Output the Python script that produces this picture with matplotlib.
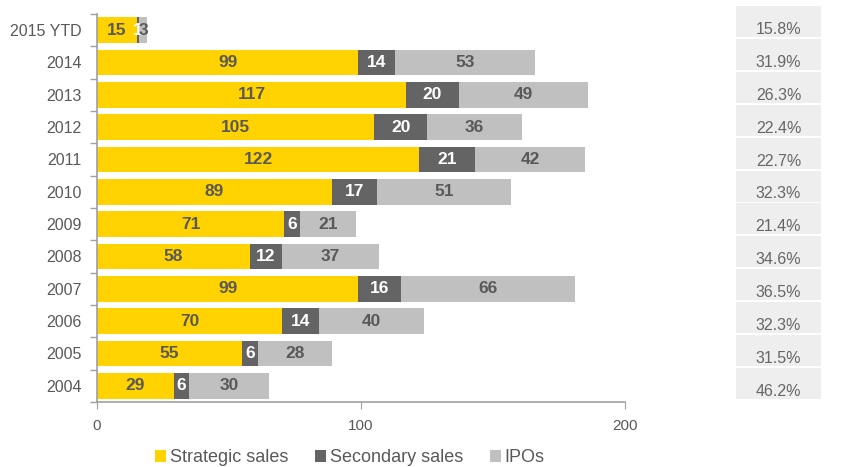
import matplotlib
matplotlib.use("Agg")
import matplotlib.pyplot as plt
import numpy as np
from matplotlib.patches import Rectangle

plt.rcParams['font.family'] = ['Liberation Sans', 'DejaVu Sans']

years = ["2015 YTD", "2014", "2013", "2012", "2011", "2010", "2009", "2008",
         "2007", "2006", "2005", "2004"]
strategic = [15, 99, 117, 105, 122, 89, 71, 58, 99, 70, 55, 29]
secondary = [1, 14, 20, 20, 21, 17, 6, 12, 16, 14, 6, 6]
ipos = [3, 53, 49, 36, 42, 51, 21, 37, 66, 40, 28, 30]
pct_labels = ["15.8%", "31.9%", "26.3%", "22.4%", "22.7%", "32.3%", "21.4%",
              "34.6%", "36.5%", "32.3%", "31.5%", "46.2%"]
series_names = ["Strategic sales", "Secondary sales", "IPOs"]

c_yellow = "#FFD200"
c_dark = "#646464"
c_light = "#C0C0C0"
txt = "#595959"

W, H = 844, 467
fig = plt.figure(figsize=(W / 100, H / 100), dpi=100)
ax = fig.add_axes([97 / W, 1 - 402 / H, (625 - 97) / W, (402 - 14) / H])

n = len(years)
y = np.arange(n)
strat = np.array(strategic)
sec = np.array(secondary)
ipo = np.array(ipos)

b1 = ax.barh(y, strat, height=0.8, color=c_yellow, label=series_names[0])
b2 = ax.barh(y, sec, left=strat, height=0.8, color=c_dark, label=series_names[1])
b3 = ax.barh(y, ipo, left=strat + sec, height=0.8, color=c_light, label=series_names[2])

for vals, lefts, col in [(strat, np.zeros(n), txt),
                         (sec, strat, "white"),
                         (ipo, strat + sec, txt)]:
    for i in range(n):
        ax.text(lefts[i] + vals[i] / 2, y[i], str(vals[i]), ha="center", va="center",
                fontsize=12.5, fontweight="bold", color=col)

ax.set_ylim(n - 0.5, -0.5)
ax.set_xlim(0, 200)
ax.set_xticks([0, 100, 200])
ax.set_yticks(y)
ax.set_yticklabels(years)
ax.set_yticks(np.arange(-0.5, n, 1), minor=True)
ax.tick_params(axis="y", which="major", length=0, labelsize=11.5, colors=txt, pad=11)
ax.tick_params(axis="y", which="minor", length=5, color="#A0A0A0", width=1)
ax.tick_params(axis="x", length=5, color="#A0A0A0", labelsize=11, labelcolor=txt, pad=7)
for s in ["top", "right"]:
    ax.spines[s].set_visible(False)
for s in ["left", "bottom"]:
    ax.spines[s].set_color("#A0A0A0")
    ax.spines[s].set_linewidth(1.2)

# right-hand percentage boxes
ax2 = fig.add_axes([736 / W, 1 - 400 / H, (821 - 736) / W, (400 - 5) / H])
ax2.set_xlim(0, 1)
ax2.set_ylim(n, 0)
ax2.axis("off")
for i in range(n):
    ax2.add_patch(Rectangle((0, i + 0.03), 1, 0.94, color="#EEEEEE", lw=0))
    ax2.text(0.5, i + 0.74, pct_labels[i], ha="center", va="center",
             fontsize=11.5, color="#666666")

fig.legend(handles=[b1, b2, b3], labels=series_names, loc="center",
           bbox_to_anchor=(350 / W, 1 - 458 / H), ncol=3, frameon=False,
           fontsize=13, labelcolor=txt, handlelength=0.6, handleheight=0.6,
           handletextpad=0.2, columnspacing=1.5, borderpad=0.1)

fig.savefig("out.png", dpi=100)
